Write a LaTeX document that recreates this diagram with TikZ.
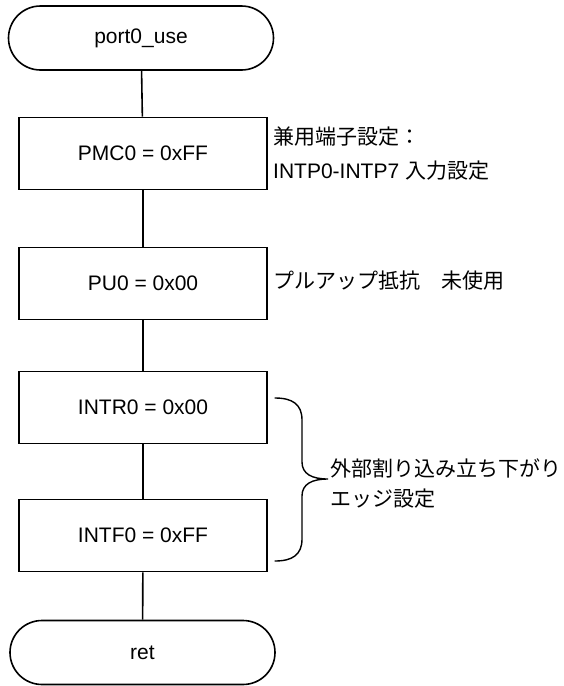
\documentclass[tikz,border=0pt]{standalone}
\usepackage{fontspec}
\setmainfont{Liberation Sans}
\newfontfamily\jp{Noto Sans CJK JP}
\begin{document}
\begin{tikzpicture}[x=1pt,y=-1pt,
  every node/.style={font=\fontsize{21}{25}\selectfont},
  term/.style={draw,line width=1.6pt,rectangle,rounded corners=32pt,minimum width=265pt,minimum height=64pt,inner sep=0pt},
  proc/.style={draw,line width=1.6pt,rectangle,minimum width=248pt,minimum height=72pt,inner sep=0pt},
  note/.style={anchor=west,inner sep=0pt,align=left},
  conn/.style={line width=1.6pt},
  brc/.style={line width=1.4pt,line cap=round}]
\useasboundingbox (0,0) rectangle (564,686);
\node[term] (start) at (141,38) {port0\_use};
\node[proc] (pmc) at (143,153.5) {PMC0 = 0xFF};
\node[proc] (pu) at (143,283.5) {PU0 = 0x00};
\node[proc] (intr) at (143,407.5) {INTR0 = 0x00};
\node[proc] (intf) at (143,535.5) {INTF0 = 0xFF};
\node[term] (ret) at (142.5,652.5) {ret};
\draw[conn] (start) -- (pmc);
\draw[conn] (pmc) -- (pu);
\draw[conn] (pu) -- (intr);
\draw[conn] (intr) -- (intf);
\draw[conn] (intf) -- (ret);
\node[note] (n1) at (273,137) {{\jp 兼用端子設定：}};
\node[note] (n2) at (273,171) {INTP0-INTP7 {\jp 入力設定}};
\node[note] (n3) at (273,281) {{\jp プルアップ抵抗　未使用}};
\node[note] (n4) at (330,468) {{\jp 外部割り込み立ち下がり}};
\node[note] (n5) at (330,499) {{\jp エッジ設定}};
\coordinate (bt) at (275,398);
\coordinate (tip) at (328,479);
\coordinate (bb) at (275,561);
\draw[brc] (bt) .. controls (292,398) and (302,404) .. (302,420)
  -- (302,462) .. controls (302,474) and (312,479) .. (tip)
  .. controls (312,479) and (302,484) .. (302,496)
  -- (302,539) .. controls (302,555) and (292,561) .. (bb);
\end{tikzpicture}
\end{document}
